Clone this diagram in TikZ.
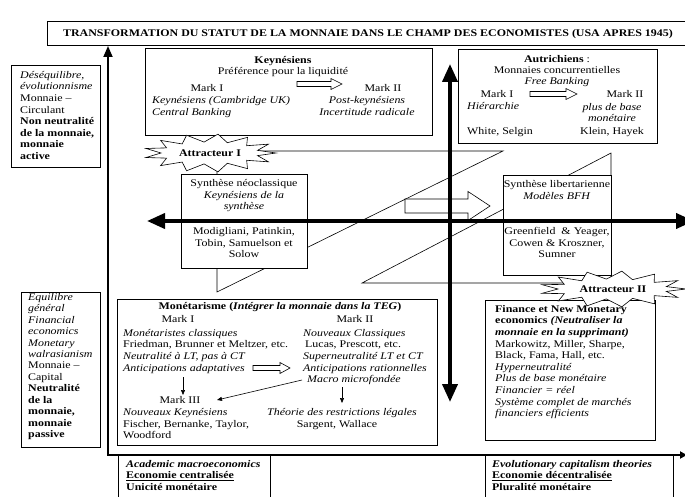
\documentclass[tikz,border=0pt]{standalone}
\usepackage{fontspec}
\setmainfont{Liberation Serif}[FakeStretch=1.17]
\usetikzlibrary{arrows.meta}
\newcommand{\fsz}{\fontsize{10.2}{11.6}\selectfont}
\newcommand{\harr}[6]{\draw[line width=0.6pt,fill=white] (#1,{#3-#4}) -- ({#2-#6},{#3-#4}) -- ({#2-#6},{#3-#5}) -- (#2,#3) -- ({#2-#6},{#3+#5}) -- ({#2-#6},{#3+#4}) -- (#1,{#3+#4}) -- cycle;}
% star burst: center coordinate, outer rx, outer ry, inner rx, inner ry
\newcommand{\burstshape}[5]{\draw[line width=0.6pt,fill=white] ([shift={(0:#2pt and #3pt)}]#1)
  \foreach \i [evaluate=\i as \aa using \i*360/26, evaluate=\i as \rx using {mod(\i,2)==0 ? #2 : #4}, evaluate=\i as \ry using {mod(\i,2)==0 ? #3 : #5}] in {1,...,25} { -- ([shift={(\aa:\rx pt and \ry pt)}]#1) } -- cycle;}
\begin{document}
\begin{tikzpicture}[x=1pt,y=-1pt,
  frame/.style={draw, fill=white, line width=0.6pt, anchor=north west, inner sep=0, outer sep=0},
  thinl/.style={line width=0.6pt},
  lb/.style={inner sep=0, font=\fsz, anchor=base west},
  cb/.style={inner sep=0, font=\fsz, anchor=base},
  blk/.style={inner sep=0, font=\fsz, align=left, anchor=north west},
  cblk/.style={inner sep=0, font=\fsz, align=center, anchor=north},
  axis/.style={line width=1.8pt},
  bigaxis/.style={line width=3.8pt, {Triangle[length=18pt,width=15pt]}-{Triangle[length=18pt,width=15pt]}},
  smallarr/.style={line width=0.6pt, -{Triangle[length=5pt,width=4pt]}},
  bursttext/.style={inner sep=0, font=\fsz\bfseries}
]
\useasboundingbox (0,0) rectangle (685,497);

% background triangles
\coordinate (A1) at (217,151); \coordinate (A2) at (503,151); \coordinate (A3) at (217,292);
\draw[thinl] (A1) -- (A2) -- (A3) -- cycle;
\coordinate (B1) at (611,153); \coordinate (B2) at (611,283); \coordinate (B3) at (362,283);
\draw[thinl] (B1) -- (B2) -- (B3) -- cycle;

% title
\node[frame, minimum width=663pt, minimum height=24pt] (titlebox) at (47,21) {};
\node[inner sep=0, font=\fsz\bfseries, anchor=base] (title) at (368,36.5) {TRANSFORMATION DU STATUT DE LA MONNAIE DANS LE CHAMP DES ECONOMISTES (USA APRES 1945)};

% left axes
\coordinate (LT) at (108,46); \coordinate (LB) at (108,455); \coordinate (RB) at (687,455);
\draw[axis, {Triangle[length=11pt,width=9pt]}-{Triangle[length=7pt,width=7pt]}] (LT) -- (LB) -- (RB);

% left boxes
\node[frame, minimum width=89pt, minimum height=102pt] (ltbox) at (11,65) {};
\node[blk] (lttext) at (20,69.9) {\strut\textit{Déséquilibre,}\\\textit{évolutionnisme}\\Monnaie –\\Circulant\\\textbf{Non neutralité}\\\textbf{de la monnaie,}\\\textbf{monnaie}\\\textbf{active}};
\node[frame, minimum width=79pt, minimum height=155pt] (lbbox) at (21,292) {};
\node[blk, font=\fontsize{10.2}{11.45}\selectfont] (lbtext) at (28,292) {\strut\textit{Equilibre}\\\textit{général}\\\textit{Financial}\\\textit{economics}\\\textit{Monetary}\\\textit{walrasianism}\\Monnaie –\\Capital\\\textbf{Neutralité}\\\textbf{de la}\\\textbf{monnaie,}\\\textbf{monnaie}\\\textbf{passive}};

% Keynesiens
\node[frame, minimum width=287pt, minimum height=87pt] (keyb) at (145,48) {};
\node[cb] (k1) at (283,63.5) {\textbf{Keynésiens}};
\node[cb] (k2) at (283,75) {Préférence pour la liquidité};
\node[cb] (k3) at (207,91.5) {Mark I};
\node[blk] (k4) at (152,95.4) {\strut\textit{Keynésiens (Cambridge UK)}\\\textit{Central Banking}};
\node[cb] (k5) at (383,91.5) {Mark II};
\node[cblk] (k6) at (367,95.4) {\strut\textit{Post-keynésiens}\\\textit{Incertitude radicale}};
\harr{297}{342}{84}{2.5}{5.5}{11}

% Autrichiens
\node[frame, minimum width=199pt, minimum height=94pt] (autb) at (458,49) {};
\node[cb] (a1) at (557,62.5) {\textbf{Autrichiens} :};
\node[cb] (a2) at (557,73.5) {Monnaies concurrentielles};
\node[cb] (a3) at (557,84.5) {\textit{Free Banking}};
\node[cb] (a4) at (497,98) {Mark I};
\node[cb] (a5) at (625,98) {Mark II};
\node[lb] (a6) at (467,110) {\textit{Hiérarchie}};
\node[cblk] (a7) at (612,101.9) {\strut\textit{plus de base}\\\textit{monétaire}};
\node[lb] (a8) at (467,135) {White, Selgin};
\node[cb] (a9) at (612,135) {Klein, Hayek};
\harr{530}{577}{94}{2.5}{5.5}{11}

% syntheses
\node[frame, minimum width=126pt, minimum height=94pt] (snbox) at (181,174) {};
\node[cblk] (s1) at (244,178.4) {\strut Synthèse néoclassique\\\textit{Keynésiens de la}\\\textit{synthèse}};
\node[cblk] (s2) at (244,226.4) {\strut Modigliani, Patinkin,\\Tobin, Samuelson et\\Solow};
\node[frame, minimum width=108pt, minimum height=100pt] (slbox) at (503,175) {};
\node[cblk] (l1) at (557,179.4) {\strut Synthèse libertarienne\\\textit{Modèles BFH}};
\node[cblk] (l2) at (557,226.4) {\strut Greenfield \ \& Yeager,\\Cowen \& Kroszner,\\Sumner};
\harr{405}{490}{206}{7}{14.5}{22}

% central axes
\coordinate (HL) at (147,221); \coordinate (HR) at (694,221);
\coordinate (VT) at (450,64); \coordinate (VB) at (450,402);
\draw[bigaxis] (HL) -- (HR);
\draw[bigaxis] (VT) -- (VB);

% Monetarisme
\node[frame, minimum width=320pt, minimum height=146pt] (monb) at (117,299) {};
\node[cb] (m0) at (280,309.5) {\textbf{Monétarisme (\textit{Intégrer la monnaie dans la TEG})}};
\node[cb] (m1) at (178,322) {Mark I};
\node[cb] (m2) at (355,322) {Mark II};
\node[blk] (m3) at (123,327.9) {\strut\textit{Monétaristes classiques}\\Friedman, Brunner et Meltzer, etc.\\\textit{Neutralité à LT, pas à CT}\\\textit{Anticipations adaptatives}};
\node[blk] (m4) at (303,327.9) {\strut\textit{Nouveaux Classiques}\\\hspace*{2pt}Lucas, Prescott, etc.\\\textit{Superneutralité LT et CT}\\\textit{Anticipations rationnelles}\\\hspace*{4pt}\textit{Macro microfondée}};
\node[cb] (m5) at (180,403.5) {Mark III};
\node[blk] (m6) at (123,407.4) {\strut\textit{Nouveaux Keynésiens}\\Fischer, Bernanke, Taylor,\\Woodford};
\node[cb] (m7) at (342,415.5) {\textit{Théorie des restrictions légales}};
\node[cb] (m8) at (337,427) {Sargent, Wallace};
\harr{253}{290}{368}{2.5}{5.5}{10}
\coordinate (d1a) at (183,377); \coordinate (d1b) at (183,395);
\draw[smallarr] (d1a) -- (d1b);
\coordinate (d2a) at (302,380); \coordinate (d2b) at (217,400);
\draw[smallarr] (d2a) -- (d2b);
\coordinate (d3a) at (342,387); \coordinate (d3b) at (342,403);
\draw[smallarr] (d3a) -- (d3b);

% Finance
\node[frame, minimum width=170pt, minimum height=140pt] (finb) at (485,300) {};
\node[blk] (f1) at (495,303.9) {\strut\textbf{Finance et New Monetary}\\\textbf{economics \textit{(Neutraliser la}}\\\textbf{\textit{monnaie en la supprimant)}}\\Markowitz, Miller, Sharpe,\\Black, Fama, Hall, etc.\\\textit{Hyperneutralité}\\\textit{Plus de base monétaire}\\\textit{Financier = réel}\\\textit{Système complet de marchés}\\\textit{financiers efficients}};

% attractors
\coordinate (att1c) at (210,153);
\burstshape{att1c}{66}{19}{49}{11}
\node[bursttext] (att1) at (att1c) {Attracteur I};
\coordinate (att2c) at (613,289);
\burstshape{att2c}{73}{18}{55}{10}
\node[bursttext] (att2) at (att2c) {Attracteur II};

% bottom
\coordinate (v1a) at (118,455); \coordinate (v1b) at (118,500);
\coordinate (v2a) at (270,455); \coordinate (v2b) at (270,500);
\coordinate (v3a) at (485,455); \coordinate (v3b) at (485,500);
\coordinate (v4a) at (673,455); \coordinate (v4b) at (673,500);
\draw[thinl] (v1a) -- (v1b) (v2a) -- (v2b) (v3a) -- (v3b) (v4a) -- (v4b);
\node[blk] (bl) at (126,458.9) {\strut\textbf{\textit{Academic macroeconomics}}\\\textbf{\underline{Economie centralisée}}\\\textbf{Unicité monétaire}};
\node[blk] (brt) at (492,458.9) {\strut\textbf{\textit{Evolutionary capitalism theories}}\\\textbf{\underline{Economie décentralisée}}\\\textbf{Pluralité monétaire}};
\end{tikzpicture}
\end{document}
